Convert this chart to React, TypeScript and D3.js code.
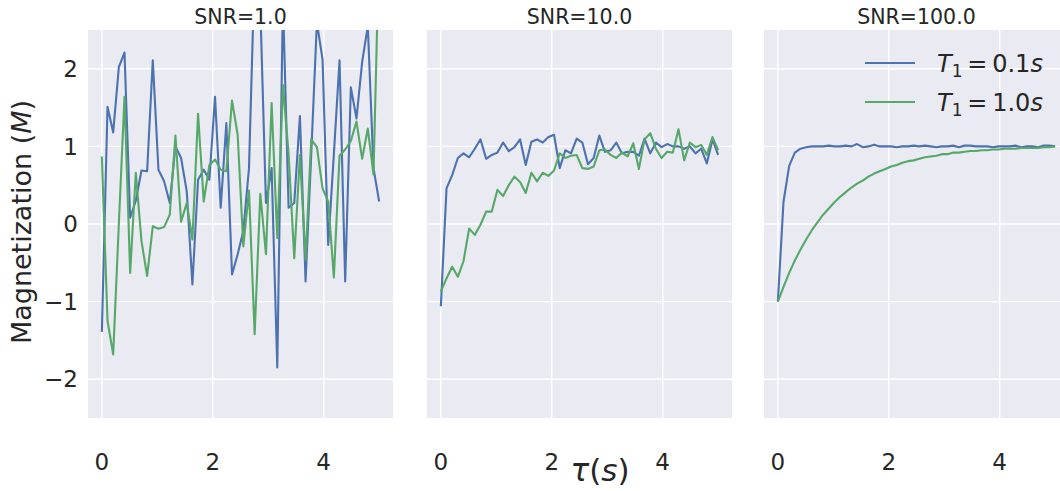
import React from "react";
import * as d3 from "d3";

// Sample times: 50 evenly spaced points on [0, 5] s
const tau: number[] = d3.range(50).map((i) => (5 * i) / 49);

const panelTitles = ["SNR=1.0", "SNR=10.0", "SNR=100.0"];
const xTicks = [0, 2, 4];
const yTicks = [-2, -1, 0, 1, 2];

// SNR = 1.0
const snr1Fast = [
  -1.39, 1.51, 1.18, 2.02, 2.21, 0.08, 0.3, 0.69, 0.68, 2.11,
  0.7, 0.55, 0.27, 1.0, 0.85, 0.42, -0.78, 0.57, 0.7, 0.57,
  1.64, 0.21, 1.3, -0.65, -0.39, -0.09, 0.72, 3.3, 2.8, 0.27,
  0.72, -1.85, 2.9, 0.21, 0.27, 1.39, -0.74, 0.9, 2.6, 2.12,
  -0.27, 0.9, 2.11, -0.74, 1.76, 1.36, 2.09, 2.55, 0.72, 0.29,
];
const snr1Slow = [
  0.87, -1.25, -1.68, 0.0, 1.64, -0.63, 0.66, -0.22, -0.67, -0.03,
  -0.06, -0.04, 0.12, 1.14, 0.03, 0.27, -0.2, 1.42, 0.29, 0.76,
  0.83, 0.7, 0.68, 1.59, 1.15, -0.29, 0.43, -1.42, 0.39, -0.39,
  1.56, -0.18, 1.79, 0.9, -0.44, 0.89, -0.46, 1.09, 0.99, 0.46,
  0.29, -0.69, 0.88, 0.96, 1.07, 1.32, 0.84, 1.23, 0.64, 3.6,
];

// SNR = 10.0
const snr10Fast = [
  -1.06, 0.46, 0.63, 0.85, 0.91, 0.86, 0.97, 1.09, 0.84, 0.89,
  0.92, 1.05, 0.94, 0.99, 1.09, 0.76, 1.06, 1.09, 1.05, 1.12,
  1.15, 0.72, 0.95, 0.91, 1.1, 1.05, 0.77, 0.85, 1.14, 0.93,
  0.95, 1.05, 0.91, 0.93, 0.93, 0.88, 1.1, 0.91, 1.05, 0.99,
  1.03, 1.0, 1.0, 0.97, 1.0, 0.91, 0.97, 0.78, 1.09, 0.89,
];
const snr10Slow = [
  -0.87, -0.7, -0.55, -0.68, -0.48, -0.06, -0.14, -0.01, 0.16, 0.16,
  0.44, 0.36, 0.5, 0.61, 0.54, 0.4, 0.66, 0.55, 0.66, 0.62,
  0.69, 0.91, 0.85, 0.88, 0.89, 0.72, 0.71, 0.74, 0.95, 0.96,
  0.89, 0.85, 0.92, 0.87, 1.04, 0.71, 1.09, 1.17, 0.97, 0.85,
  0.93, 0.92, 1.22, 0.82, 1.05, 0.99, 1.02, 0.89, 1.12, 0.95,
];

// SNR = 100.0
const snr100Fast = [
  -1.0, 0.29, 0.75, 0.92, 0.97, 0.99, 1.0, 1.0, 1.0, 1.01,
  1.0, 1.0, 1.01, 1.0, 1.03, 0.99, 1.0, 1.02, 1.0, 1.0,
  1.0, 0.99, 1.0, 1.0, 1.01, 1.0, 1.01, 1.0, 0.99, 1.0,
  1.0, 1.01, 0.99, 1.01, 1.01, 1.0, 1.0, 1.0, 0.99, 1.0,
  1.0, 1.0, 1.01, 0.99, 1.0, 1.0, 0.99, 1.01, 1.01, 1.0,
];
const snr100Slow = [
  -1.0, -0.81, -0.63, -0.47, -0.33, -0.2, -0.08, 0.02, 0.12, 0.2,
  0.28, 0.35, 0.41, 0.47, 0.52, 0.56, 0.61, 0.65, 0.68, 0.71,
  0.74, 0.76, 0.79, 0.81, 0.82, 0.84, 0.86, 0.87, 0.88, 0.9,
  0.9, 0.92, 0.92, 0.93, 0.94, 0.94, 0.95, 0.95, 0.96, 0.96,
  0.97, 0.97, 0.97, 0.98, 0.98, 0.98, 0.98, 0.99, 0.99, 1.0,
];

const fastSeries = [snr1Fast, snr10Fast, snr100Fast];
const slowSeries = [snr1Slow, snr10Slow, snr100Slow];
const legendValues = ["0.1", "1.0"];

const BLUE = "#4C72B0";
const GREEN = "#55A868";
const TEXT = "#262626";
const BG = "#EAEAF2";
const FONT = "'DejaVu Sans', sans-serif";

const W = 1060;
const H = 491;
const panelLefts = [88, 427, 764];
const panelW = 305;
const top = 30;
const bottom = 418;

export default function App() {
  const y = d3.scaleLinear().domain([-2.5, 2.5]).range([bottom, top]);

  return (
    <svg
      width={W}
      height={H}
      style={{ position: "absolute", left: 0, top: 0, background: "#fff" }}
      fontFamily={FONT}
    >
      <defs>
        {panelLefts.map((l, k) => (
          <clipPath id={`clip${k}`} key={k}>
            <rect x={l} y={top} width={panelW} height={bottom - top} />
          </clipPath>
        ))}
      </defs>
      {panelLefts.map((l, k) => {
        const x = d3.scaleLinear().domain([-0.25, 5.25]).range([l, l + panelW]);
        const line = d3
          .line<number>()
          .x((_, i) => x(tau[i]))
          .y((d) => y(d));
        return (
          <g key={k}>
            <rect x={l} y={top} width={panelW} height={bottom - top} fill={BG} />
            {xTicks.map((t) => (
              <line
                key={`gx${t}`}
                x1={x(t)}
                x2={x(t)}
                y1={top}
                y2={bottom}
                stroke="#fff"
                strokeWidth={1.4}
              />
            ))}
            {yTicks.map((t) => (
              <line
                key={`gy${t}`}
                x1={l}
                x2={l + panelW}
                y1={y(t)}
                y2={y(t)}
                stroke="#fff"
                strokeWidth={1.4}
              />
            ))}
            <g clipPath={`url(#clip${k})`}>
              <path d={line(fastSeries[k]) || ""} fill="none" stroke={BLUE} strokeWidth={2.1} strokeLinejoin="round" />
              <path d={line(slowSeries[k]) || ""} fill="none" stroke={GREEN} strokeWidth={2.1} strokeLinejoin="round" />
            </g>
            {xTicks.map((t) => (
              <text
                key={`tx${t}`}
                x={x(t)}
                y={470}
                textAnchor="middle"
                fontSize={23}
                fill={TEXT}
              >
                {t}
              </text>
            ))}
            <text
              x={l + panelW / 2}
              y={24}
              textAnchor="middle"
              fontSize={20.5}
              fill={TEXT}
            >
              {panelTitles[k]}
            </text>
          </g>
        );
      })}
      {yTicks.map((t) => (
        <text
          key={`ty${t}`}
          x={78}
          y={y(t)}
          dy="0.36em"
          textAnchor="end"
          fontSize={23}
          fill={TEXT}
        >
          {t < 0 ? `\u2212${Math.abs(t)}` : t}
        </text>
      ))}
      <text
        transform={`translate(31, ${(top + bottom) / 2 - 2}) rotate(-90)`}
        textAnchor="middle"
        fontSize={27}
        fill={TEXT}
      >
        Magnetization (<tspan fontStyle="italic">M</tspan>)
      </text>
      <text x={600} y={481} textAnchor="middle" fontSize={31} fill={TEXT}>
        <tspan fontStyle="italic">τ</tspan>(<tspan fontStyle="italic">s</tspan>)
      </text>
      {legendValues.map((v, i) => {
        const ly = 63 + i * 39;
        return (
          <g key={v}>
            <line x1={865} x2={915} y1={ly} y2={ly} stroke={i === 0 ? BLUE : GREEN} strokeWidth={2.1} />
            <text x={937} y={ly + 9} fontSize={24} fill={TEXT}>
              <tspan fontStyle="italic">T</tspan>
              <tspan fontSize={17} dy={5}>1</tspan>
              <tspan dy={-5}>{`\u2009=\u2009${v}`}</tspan>
              <tspan fontStyle="italic">s</tspan>
            </text>
          </g>
        );
      })}
    </svg>
  );
}
